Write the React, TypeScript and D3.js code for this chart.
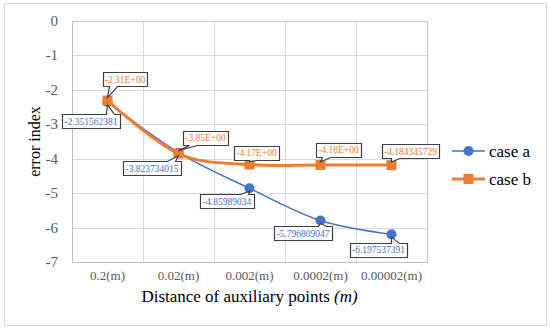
import React, { useRef, useEffect } from 'react';
import * as d3 from 'd3';

// data
const categories = ['0.2(m)', '0.02(m)', '0.002(m)', '0.0002(m)', '0.00002(m)'];
const caseA = [-2.351562381, -3.823734015, -4.85989034, -5.796809047, -6.197537391];
const caseB = [-2.31, -3.85, -4.17, -4.18, -4.184345729];
const labelsA = ['-2.351562381', '-3.823734015', '-4.85989034', '-5.796809047', '-6.197537391'];
const labelsB = ['-2.31E+00', '-3.85E+00', '-4.17E+00', '-4.18E+00', '-4.184345729'];
const yTicks = [0, -1, -2, -3, -4, -5, -6, -7];

// callout offsets (box centre relative to point)
const offsA = [[-16.5, 19.5], [-26.5, 15.5], [-22.5, 13], [-17.5, 12.5], [-13, 15.5]];
const offsB = [[17.5, -21.5], [27, -16], [7, -12], [18, -15], [19, -14]];

const BLUE = '#4472c4';
const ORANGE = '#ed7d31';
const FONT = "'Liberation Serif', 'Times New Roman', serif";

export default function App() {
  const svgRef = useRef<SVGSVGElement>(null);

  useEffect(() => {
    const width = 550;
    const height = 332;
    const margin = { top: 21, left: 72, right: 123, bottom: 70 };
    const svg = d3.select(svgRef.current).attr('width', width).attr('height', height)
      .attr('font-family', FONT);
    svg.selectAll('*').remove();

    // outer frame
    svg.append('rect')
      .attr('x', 4.5).attr('y', 3.5).attr('width', 542).attr('height', 322)
      .attr('fill', 'white').attr('stroke', '#d9d9d9');

    const x = d3.scaleBand().domain(categories).range([margin.left, width - margin.right]);
    const y = d3.scaleLinear().domain([-7, 0]).range([height - margin.bottom, margin.top]);
    const cx = (i: number) => x(categories[i])! + x.bandwidth() / 2;

    // grid
    svg.append('g').selectAll('line').data(yTicks.slice(1, -1)).join('line')
      .attr('x1', margin.left).attr('x2', width - margin.right)
      .attr('y1', d => Math.round(y(d)) + 0.5).attr('y2', d => Math.round(y(d)) + 0.5)
      .attr('stroke', '#d9d9d9');
    svg.append('g').selectAll('line').data(categories.slice(1)).join('line')
      .attr('x1', d => Math.round(x(d)!) + 0.5).attr('x2', d => Math.round(x(d)!) + 0.5)
      .attr('y1', y(0)).attr('y2', y(-7))
      .attr('stroke', '#d9d9d9');
    // plot border (top / right bluish)
    svg.append('path')
      .attr('d', `M${margin.left},${y(0) + 0.5}H${width - margin.right + 0.5}V${y(-7)}`)
      .attr('fill', 'none').attr('stroke', '#b4c7e7');
    // axes lines
    svg.append('path')
      .attr('d', `M${margin.left + 0.5},${y(0)}V${y(-7) + 0.5}H${width - margin.right + 0.5}`)
      .attr('fill', 'none').attr('stroke', '#bfbfbf');

    // y tick labels
    svg.append('g').selectAll('text').data(yTicks).join('text')
      .attr('x', 58).attr('y', d => y(d) + 5)
      .attr('text-anchor', 'end')
      .attr('font-size', 15)
      .attr('fill', '#595959')
      .text(d => d === 0 ? '0' : `-${Math.abs(d)}`);

    // x tick labels
    svg.append('g').selectAll('text').data(categories).join('text')
      .attr('x', (d, i) => cx(i)).attr('y', 280)
      .attr('text-anchor', 'middle')
      .attr('font-size', 13)
      .attr('fill', '#595959')
      .text(d => d);

    // axis titles
    const xt = svg.append('text')
      .attr('x', (margin.left + width - margin.right) / 2).attr('y', 302)
      .attr('text-anchor', 'middle')
      .attr('font-size', 17)
      .attr('fill', '#000');
    xt.append('tspan').text('Distance of auxiliary points ');
    xt.append('tspan').attr('font-style', 'italic').text('(m)');

    svg.append('text')
      .attr('transform', `translate(40,${(y(0) + y(-7)) / 2}) rotate(-90)`)
      .attr('text-anchor', 'middle')
      .attr('font-size', 16)
      .attr('fill', '#000')
      .text('error index');

    // lines
    const line = d3.line<number>()
      .x((d, i) => cx(i))
      .y(d => y(d))
      .curve(d3.curveCardinal.tension(0));

    svg.append('path').datum(caseA)
      .attr('fill', 'none').attr('stroke', BLUE).attr('stroke-width', 1.5)
      .attr('d', line);
    svg.append('path').datum(caseB)
      .attr('fill', 'none').attr('stroke', ORANGE).attr('stroke-width', 3)
      .attr('d', line);

    svg.append('g').selectAll('circle').data(caseA).join('circle')
      .attr('cx', (d, i) => cx(i)).attr('cy', d => y(d)).attr('r', 5)
      .attr('fill', BLUE);
    svg.append('g').selectAll('rect').data(caseB).join('rect')
      .attr('x', (d, i) => cx(i) - 5).attr('y', d => y(d) - 5)
      .attr('width', 10).attr('height', 10)
      .attr('fill', ORANGE);

    // callouts
    const callout = (vals: number[], labels: string[], offs: number[][], color: string) => {
      const g = svg.append('g');
      vals.forEach((v, i) => {
        const px = cx(i);
        const py = y(v);
        const text = labels[i];
        const w = text.length * 4.3 + 6;
        const h = 14;
        const bx = px + offs[i][0];
        const by = py + offs[i][1];
        const x0 = Math.round(bx - w / 2) + 0.5;
        const x1 = Math.round(bx + w / 2) + 0.5;
        const y0 = Math.round(by - h / 2) + 0.5;
        const y1 = Math.round(by + h / 2) + 0.5;
        const base = Math.max(x0 + 6, Math.min(x1 - 14, px));
        const b1 = base;
        const b2 = base + 8;
        let d: string;
        if (py > by) {
          // wedge on bottom edge
          d = `M${x0},${y0}H${x1}V${y1}H${b2}L${px},${py - 3}L${b1},${y1}H${x0}Z`;
        } else {
          d = `M${x0},${y0}H${b1}L${px},${py + 3}L${b2},${y0}H${x1}V${y1}H${x0}Z`;
        }
        g.append('path').attr('d', d)
          .attr('fill', 'white').attr('stroke', '#404040').attr('stroke-width', 1.2);
        g.append('text')
          .attr('x', bx).attr('y', by + 3.5)
          .attr('text-anchor', 'middle')
          .attr('font-size', 9.5)
          .attr('fill', color)
          .text(text);
      });
    };
    callout(caseA, labelsA, offsA, BLUE);
    callout(caseB, labelsB, offsB, ORANGE);

    // legend
    const legend = svg.append('g').attr('transform', 'translate(452,0)');
    legend.append('line').attr('x1', 0).attr('x2', 33).attr('y1', 151).attr('y2', 151)
      .attr('stroke', BLUE).attr('stroke-width', 1.5);
    legend.append('circle').attr('cx', 16.5).attr('cy', 151).attr('r', 5).attr('fill', BLUE);
    legend.append('text').attr('x', 37).attr('y', 157)
      .attr('font-size', 17)
      .text('case a');
    legend.append('line').attr('x1', 0).attr('x2', 33).attr('y1', 179).attr('y2', 179)
      .attr('stroke', ORANGE).attr('stroke-width', 3);
    legend.append('rect').attr('x', 11.5).attr('y', 174).attr('width', 10).attr('height', 10)
      .attr('fill', ORANGE);
    legend.append('text').attr('x', 37).attr('y', 185)
      .attr('font-size', 17)
      .text('case b');
  }, []);

  return (
    <svg ref={svgRef} style={{ position: 'absolute', left: 0, top: 0 }}></svg>
  );
}
